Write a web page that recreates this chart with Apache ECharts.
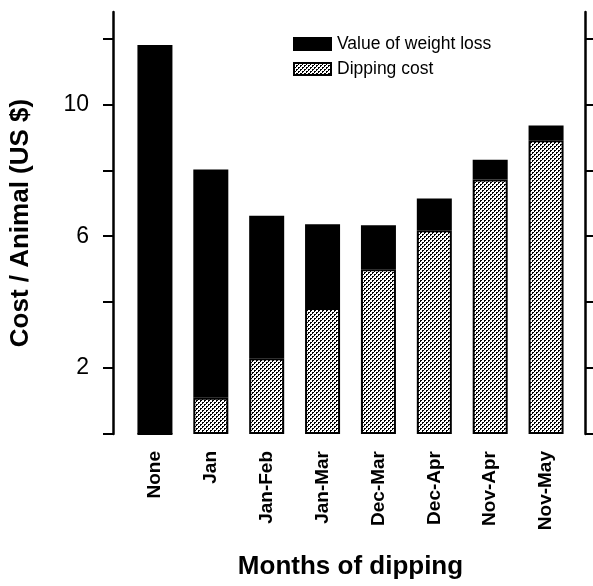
<!DOCTYPE html>
<html>
<head>
<meta charset="utf-8">
<script src="https://cdn.jsdelivr.net/npm/echarts@6/dist/echarts.min.js"></script>
<style>
html,body{margin:0;padding:0;background:#fff;}
#chart{width:593px;height:586px;}
</style>
</head>
<body>
<div id="chart"></div>
<script>
var categories = ['None', 'Jan', 'Jan-Feb', 'Jan-Mar', 'Dec-Mar', 'Dec-Apr', 'Nov-Apr', 'Nov-May'];
var dippingCost = [0, 1.1, 2.3, 3.82, 5.0, 6.18, 7.72, 8.91];
var weightLossValue = [11.8, 6.92, 4.32, 2.54, 1.33, 0.96, 0.60, 0.45];
var yTicks = [0, 2, 4, 6, 8, 10, 12];
var yLabels = [2, 6, 10];

var FONT = '"Liberation Sans", Arial, Helvetica, sans-serif';

function makePattern() {
  var c = document.createElement('canvas');
  c.width = 4; c.height = 4;
  var ctx = c.getContext('2d');
  ctx.fillStyle = '#ffffff';
  ctx.fillRect(0, 0, 4, 4);
  ctx.fillStyle = '#000000';
  ctx.fillRect(0, 0, 2, 1);
  ctx.fillRect(0, 1, 1, 1);
  ctx.fillRect(2, 2, 2, 1);
  ctx.fillRect(2, 3, 1, 1);
  return c;
}
var pattern = { image: makePattern(), repeat: 'repeat' };

var chart = echarts.init(document.getElementById('chart'), null, { renderer: 'canvas' });

var yAxisCommon = {
  type: 'value',
  min: 0,
  max: 12.8,
  interval: 2,
  splitLine: { show: false },
  axisLine: { show: true, lineStyle: { color: '#000', width: 2.5 } },
  axisTick: { show: true, inside: false, length: 10, customValues: yTicks, lineStyle: { color: '#000', width: 2 } }
};

chart.setOption({
  animation: false,
  backgroundColor: '#fff',
  grid: { left: 127, right: 19, top: 12, bottom: 152, containLabel: false, outerBoundsMode: 'none' },
  legend: {
    left: 288,
    top: 30,
    orient: 'vertical',
    itemWidth: 37,
    itemHeight: 12,
    itemGap: 7,
    icon: 'rect',
    data: ['Value of weight loss', 'Dipping cost'],
    textStyle: { fontFamily: FONT, fontSize: 17.5, color: '#000', padding: [0, 0, 0, 1] }
  },
  xAxis: {
    type: 'category',
    data: categories,
    axisLine: { show: false },
    axisTick: { show: false },
    axisLabel: {
      rotate: 90,
      margin: 17,
      fontFamily: FONT,
      fontSize: 19,
      fontWeight: 'bold',
      color: '#000'
    },
    name: 'Months of dipping',
    nameLocation: 'middle',
    nameGap: 120,
    nameTextStyle: { fontFamily: FONT, fontSize: 26, fontWeight: 'bold', color: '#000' }
  },
  yAxis: [
    Object.assign({}, yAxisCommon, {
      position: 'left',
      offset: 14,
      axisLabel: {
        show: true,
        customValues: yLabels,
        margin: 24,
        fontFamily: FONT,
        fontSize: 23,
        color: '#000'
      },
      name: 'Cost / Animal (US $)',
      nameLocation: 'middle',
      nameGap: 79,
      nameRotate: 90,
      nameTextStyle: { fontFamily: FONT, fontSize: 26, fontWeight: 'bold', color: '#000' }
    }),
    Object.assign({}, yAxisCommon, {
      position: 'right',
      offset: 11,
      axisLabel: { show: false }
    })
  ],
  series: [
    {
      name: 'Dipping cost',
      type: 'bar',
      stack: 'total',
      barWidth: 35,
      data: dippingCost,
      itemStyle: { color: pattern, borderColor: '#000', borderWidth: 2 }
    },
    {
      name: 'Value of weight loss',
      type: 'bar',
      stack: 'total',
      barWidth: 35,
      data: weightLossValue,
      itemStyle: { color: '#000', borderColor: '#000', borderWidth: 2 }
    }
  ]
});
</script>
</body>
</html>
